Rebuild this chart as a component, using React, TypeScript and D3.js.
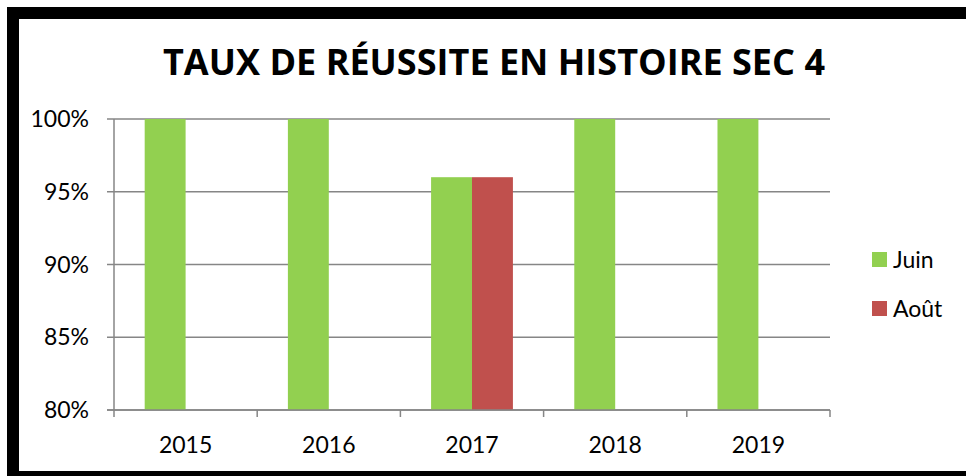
import { useEffect, useRef } from "react";
import * as d3 from "d3";

const years = ["2015", "2016", "2017", "2018", "2019"];
const seriesNames = ["Juin", "Août"];
const juin = [1.0, 1.0, 0.96, 1.0, 1.0];
const aout = [null, null, 0.96, null, null];
const yTicks = [0.8, 0.85, 0.9, 0.95, 1.0];
const colors = ["#92D050", "#C0504D"];

const W = 966;
const H = 476;
const plot = { left: 114, right: 830, top: 119, bottom: 410 };
const FONT = "Lato, 'Open Sans', sans-serif";

function App() {
  const ref = useRef<SVGSVGElement | null>(null);

  useEffect(() => {
    const svg = d3.select(ref.current);
    svg.selectAll("*").remove();

    // frame
    svg.append("rect").attr("width", W).attr("height", H).attr("fill", "#fff");
    svg.append("rect")
      .attr("x", 13).attr("y", 13)
      .attr("width", W + 20).attr("height", 464)
      .attr("fill", "none").attr("stroke", "#000").attr("stroke-width", 12);

    const x = d3.scaleBand().domain(years).range([plot.left, plot.right]);
    const inner = d3.scaleBand().domain(seriesNames)
      .range([0, x.bandwidth()]).paddingInner(0).paddingOuter(0.75);
    const y = d3.scaleLinear().domain([0.8, 1.0]).range([plot.bottom, plot.top]);

    // gridlines
    svg.append("g").selectAll("line").data(yTicks).join("line")
      .attr("x1", plot.left - 7).attr("x2", plot.right)
      .attr("y1", (d) => y(d)).attr("y2", (d) => y(d))
      .attr("stroke", "#868686").attr("stroke-width", 1.5);

    // bars
    const series = [juin, aout];
    series.forEach((vals, si) => {
      svg.append("g").selectAll("rect")
        .data(years.map((yr, i) => ({ yr, v: vals[i] })).filter((d) => d.v != null))
        .join("rect")
        .attr("x", (d) => (x(d.yr) as number) + (inner(seriesNames[si]) as number))
        .attr("width", inner.bandwidth())
        .attr("y", (d) => y(d.v as number))
        .attr("height", (d) => plot.bottom - y(d.v as number))
        .attr("fill", colors[si]);
    });

    // axes
    svg.append("line")
      .attr("x1", plot.left).attr("x2", plot.left)
      .attr("y1", plot.top).attr("y2", plot.bottom)
      .attr("stroke", "#868686").attr("stroke-width", 1.5);
    svg.append("line")
      .attr("x1", plot.left - 7).attr("x2", plot.right)
      .attr("y1", plot.bottom).attr("y2", plot.bottom)
      .attr("stroke", "#868686").attr("stroke-width", 1.5);
    const bounds = [...years.map((yr) => x(yr) as number), plot.right];
    svg.append("g").selectAll("line").data(bounds).join("line")
      .attr("x1", (d) => d).attr("x2", (d) => d)
      .attr("y1", plot.bottom).attr("y2", plot.bottom + 7)
      .attr("stroke", "#868686").attr("stroke-width", 1.5);

    // tick labels
    svg.append("g").selectAll("text").data(yTicks).join("text")
      .attr("x", 89).attr("y", (d) => y(d) + 8)
      .attr("text-anchor", "end")
      .attr("font-family", FONT).attr("font-size", 23).attr("fill", "#000")
      .text((d) => d3.format(".0%")(d));
    svg.append("g").selectAll("text").data(years).join("text")
      .attr("x", (d) => (x(d) as number) + x.bandwidth() / 2)
      .attr("y", 453)
      .attr("text-anchor", "middle")
      .attr("font-family", FONT).attr("font-size", 23).attr("fill", "#000")
      .text((d) => d);

    // title
    svg.append("text")
      .attr("x", 494).attr("y", 75)
      .attr("text-anchor", "middle")
      .attr("font-family", "'Open Sans', sans-serif")
      .attr("font-weight", "bold").attr("font-size", 36)
      .attr("textLength", 662).attr("lengthAdjust", "spacingAndGlyphs")
      .text("TAUX DE RÉUSSITE EN HISTOIRE SEC 4");

    // legend
    const lg = svg.append("g").selectAll("g").data(seriesNames).join("g")
      .attr("transform", (_, i) => `translate(872, ${252 + i * 49})`);
    lg.append("rect").attr("width", 15).attr("height", 15)
      .attr("fill", (_, i) => colors[i]);
    lg.append("text").attr("x", 21).attr("y", 16)
      .attr("font-family", FONT).attr("font-size", 23).attr("fill", "#000")
      .text((d) => d);
  }, []);

  return (
    <div style={{ position: "absolute", left: 0, top: 0 }}>
      <svg ref={ref} width={W} height={H} style={{ display: "block" }} />
    </div>
  );
}

export default App;
